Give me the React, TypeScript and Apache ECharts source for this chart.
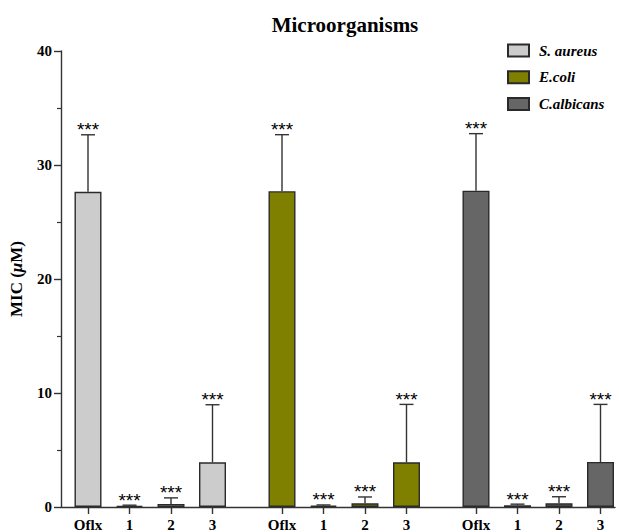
import React, { useEffect, useRef } from "react";
import * as echarts from "echarts";

const groupNames = ["S. aureus", "E.coli", "C.albicans"];
const tickLabels = ["Oflx", "1", "2", "3"];
const aureusMean = [27.65, 0.11, 0.27, 3.92];
const aureusSd = [5.0, 0.05, 0.53, 5.05];
const coliMean = [27.7, 0.12, 0.32, 3.92];
const coliSd = [4.96, 0.06, 0.56, 5.08];
const albicansMean = [27.75, 0.15, 0.32, 3.95];
const albicansSd = [5.0, 0.1, 0.58, 5.05];
const signif = ["***", "***", "***", "***"];
const yTicks = [0, 10, 20, 30, 40];

const colors = ["#cccccc", "#808000", "#666666"];
const FONT = "'Liberation Serif', 'Times New Roman', serif";
const SANS = "'Liberation Sans', Arial, sans-serif";

// layout (pixel-like x units on a value axis)
const X_MAX = 554;
const FIRST = 27;
const BAR_STEP = 41.5;
const GROUP_STEP = 194;
const pos = (g: number, k: number) => FIRST + g * GROUP_STEP + k * BAR_STEP;

export default function App() {
  const ref = useRef<HTMLDivElement>(null);
  useEffect(() => {
    if (!ref.current) return;
    const chart = echarts.init(ref.current, null, { renderer: "svg" });
    const means = [aureusMean, coliMean, albicansMean];
    const sds = [aureusSd, coliSd, albicansSd];
    const allPos: number[] = [];
    const labelMap: Record<string, string> = {};
    groupNames.forEach((_, g) =>
      tickLabels.forEach((t, k) => {
        const p = pos(g, k);
        allPos.push(p);
        labelMap[p.toFixed(1)] = t;
      })
    );
    const barSeries = groupNames.map((name, g) => ({
      name,
      type: "bar",
      barWidth: 27,
      barGap: "-100%",
      itemStyle: { color: colors[g], borderColor: "#2a2a2a", borderWidth: 1.4 },
      data: means[g].map((v, k) => [pos(g, k), v]),
      z: 2,
    }));
    const errData: any[] = [];
    groupNames.forEach((_, g) =>
      means[g].forEach((v, k) => errData.push([pos(g, k), v, v + sds[g][k], k]))
    );
    const errSeries = {
      type: "custom",
      name: "err",
      z: 5,
      data: errData,
      renderItem: (params: any, api: any) => {
        const x = api.value(0);
        const base = api.coord([x, api.value(1)]);
        const top = api.coord([x, api.value(2)]);
        const k = api.value(3);
        const st = { stroke: "#333", lineWidth: 1.4 };
        return {
          type: "group",
          children: [
            { type: "line", shape: { x1: base[0], y1: base[1], x2: top[0], y2: top[1] }, style: st },
            { type: "line", shape: { x1: top[0] - 7, y1: top[1], x2: top[0] + 7, y2: top[1] }, style: st },
            {
              type: "text",
              x: top[0],
              y: top[1] - 5,
              style: {
                text: signif[k],
                fill: "#000",
                font: `19px ${SANS}`,
                align: "center",
                verticalAlign: "middle",
              },
            },
          ],
        };
      },
    };
    chart.setOption({
      animation: false,
      textStyle: { fontFamily: FONT },
      title: {
        text: "Microorganisms",
        left: 340,
        top: 9,
        textAlign: "center",
        textStyle: { fontFamily: FONT, fontSize: 21, fontWeight: "bold", color: "#000" },
      },
      legend: {
        orient: "vertical",
        left: 507,
        top: 43,
        padding: 0,
        itemWidth: 21,
        itemHeight: 12,
        itemGap: 11.7,
        icon: "rect",
        data: groupNames,
        textStyle: {
          fontFamily: FONT,
          fontSize: 15,
          fontWeight: "bold",
          fontStyle: "italic",
          color: "#000",
          padding: [0, 0, 0, 5],
        },
      },
      grid: { left: 61, right: 4, top: 51, bottom: 25, containLabel: false },
      xAxis: {
        type: "value",
        min: 0,
        max: X_MAX,
        splitLine: { show: false },
        axisLine: { show: true, onZero: false, lineStyle: { color: "#333", width: 1.4 } },
        axisTick: {
          show: true,
          customValues: allPos,
          length: 7,
          lineStyle: { color: "#333", width: 1.4 },
        },
        axisLabel: {
          customValues: allPos,
          margin: 10,
          formatter: (v: number) => labelMap[v.toFixed(1)] ?? "",
          fontFamily: FONT,
          fontSize: 15,
          fontWeight: "bold",
          color: "#000",
        },
      },
      yAxis: {
        type: "value",
        min: yTicks[0],
        max: yTicks[yTicks.length - 1],
        interval: 10,
        name: "MIC ({i|μ}M)",
        nameLocation: "middle",
        nameGap: 36,
        nameTextStyle: {
          fontFamily: FONT,
          fontSize: 17,
          fontWeight: "bold",
          color: "#000",
          rich: {
            i: { fontFamily: FONT, fontSize: 17, fontWeight: "bold", fontStyle: "italic", color: "#000" },
          },
        },
        splitLine: { show: false },
        axisLine: { show: true, lineStyle: { color: "#333", width: 1.4 } },
        axisTick: { show: true, length: 7, lineStyle: { color: "#333", width: 1.4 } },
        minorTick: { show: true, splitNumber: 2, length: 4, lineStyle: { color: "#333", width: 1.2 } },
        axisLabel: {
          margin: 9,
          fontFamily: FONT,
          fontSize: 15,
          fontWeight: "bold",
          color: "#000",
        },
      },
      series: [...barSeries, errSeries],
    });
    return () => chart.dispose();
  }, []);
  return (
    <div
      ref={ref}
      style={{ position: "absolute", left: 0, top: 0, width: 619, height: 532 }}
    />
  );
}
